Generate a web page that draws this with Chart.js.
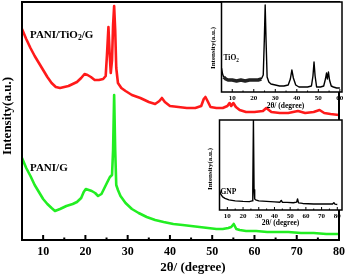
<!DOCTYPE html>
<html><head><meta charset="utf-8">
<script src="https://cdn.jsdelivr.net/npm/chart.js@4.4.0/dist/chart.umd.min.js"></script>
<style>
html,body{margin:0;padding:0;background:#fff;}
#wrap{position:relative;width:350px;height:276px;overflow:hidden;background:#fff;}
canvas{position:absolute;}
</style></head><body>
<div id="wrap">
<canvas id="main" width="350" height="276" style="left:0;top:0"></canvas>
<canvas id="tio2" width="150" height="112" style="left:200px;top:0"></canvas>
<canvas id="gnp" width="150" height="112" style="left:200px;top:116px"></canvas>
</div>
<script>
const FONT = '"Liberation Serif", "Times New Roman", serif';

// ---- main chart: PANI/TiO2/G (red) ----
const twoThetaTiO2G = [5,5.5,6,7,8,9,10,11,12,13,14,15,16,17,18,19,19.8,20.5,21.3,22.2,23.2,24.2,24.8,25.1,25.45,25.75,26.0,26.3,26.55,26.8,27.05,27.3,27.7,28.5,29.5,31,33,35,36.5,37.5,38.1,38.8,40,42,44,46,47.4,48.0,48.4,48.9,49.6,51,52.5,53.6,54.1,54.5,55.0,55.6,56.5,58,60,62,62.8,64,66,68,70.3,72,74,75.4,76.5,78,80];
const intensityTiO2G = [211,206,201,192,184,177,170,163,157,153,152,153,154,156,158,162,166,165,163,160,160,161,164,185,213,185,167,180,215,234,210,172,157,152,149,145,142,138,136,139,142,138,134,133,132,132,134,141,143,139,133,132,132,134,137,134,137,133,130,128,128,129,132,128,127,127,129,127,128,130,127,126,125];

// ---- main chart: PANI/G (green) ----
const twoThetaG = [5,5.5,6,7,8,9,10,11,12,12.8,14,15.5,17,18,19,19.6,20.1,20.8,21.5,22.3,23,23.8,24.5,25.2,25.8,26.3,26.55,26.8,27.05,27.3,27.7,28.3,29.5,31,32.6,34.5,36.5,38.5,40.8,43,45,47,49,51,52.5,53.8,54.5,55.1,55.7,56.5,58,60.4,63,65,68,71,74,77,80];
const intensityG = [82,77,72,64,55,48,41,36,32,29,31,34,36,38,42,48,51,50,49,47,44,46,52,58,63,65,90,145,90,55,50,44,37,31,27,23,20,18,16,15,14,13,12,11,11,12,13,16,11,10,9,9,8,8,8,7,7,6,6];

// ---- inset: TiO2 ----
const twoThetaTiO2 = [5,5.5,6,7,8,10,12,14,16,18,20,22,23.5,24.4,24.9,25.3,25.7,26.2,27,28,30,32,34,36,37,37.7,38.4,39.5,41,43,45,46.8,47.5,48.0,48.5,49.2,51,52.5,53.3,53.8,54.2,54.7,55.2,56,57,58.5,60];
const intensityTiO2 = [24,18,15,13,12,12,11,12,11,12,12,12,13,17,52,87,52,15,10,8,7,6,6,7,13,22,14,7,5,5,5,6,16,30,16,5,5,6,13,19,13,20,12,6,5,4,4];

// ---- inset: GNP ----
const twoThetaGNP = [5,5.7,7,8.5,11,15,20,24,25.8,26.2,26.6,27.0,27.4,28,30,35,40,43.5,44.3,45,48,52,54.1,54.7,55.3,58,65,72,77,77.8,78.5,80];
const intensityGNP = [20,16,13,11.5,10,9,8.5,8.3,9,20,89,20,11,10,9,8.5,8,7.7,9.5,7.7,7.5,7.2,7.8,11,7,6.5,6,6,6,7.3,5.8,5.5];

// ---- ticks ----
const mainTickLabels = [10,20,30,40,50,60,70,80];
const mainMinorTicks = [15,25,35,45,55,65,75];
const tio2TickLabels = [10,20,30,40,50,60];
const tio2MinorTicks = [15,25,35,45,55];
const gnpTickLabels = [10,20,30,40,50,60,70,80];
const gnpMinorTicks = [15,25,35,45,55,65,75];

const xTitle = '2θ/ (degree)';
const yTitle = 'Intensity(a.u.)';

function pts(xs, ys){ return xs.map((x,i)=>({x:x, y:ys[i]})); }

function drawParts(ctx, x, y, parts, size){
  let cx = x;
  for (const p of parts){
    const s = p.sub ? size*0.7 : size;
    ctx.font = 'bold ' + s + 'px ' + FONT;
    ctx.textAlign = 'left';
    ctx.textBaseline = 'middle';
    ctx.fillText(p.t, cx, y + (p.sub ? size*0.3 : 0));
    cx += ctx.measureText(p.t).width;
  }
}

function build(id, c){
  const cv = document.getElementById(id);
  const W = cv.width, H = cv.height;
  const decor = {
    id: 'decor_' + id,
    beforeDraw(chart){
      if (!c.fillArea) return;
      const a = chart.chartArea, ctx = chart.ctx;
      ctx.save(); ctx.fillStyle = '#fff';
      ctx.fillRect(a.left, a.top, a.right - a.left, a.bottom - a.top);
      ctx.restore();
    },
    afterDraw(chart){
      const a = chart.chartArea, ctx = chart.ctx, xs = chart.scales.x;
      ctx.save();
      ctx.strokeStyle = '#000'; ctx.fillStyle = '#000';
      ctx.lineWidth = c.frameWidth;
      ctx.strokeRect(a.left, a.top, a.right - a.left, a.bottom - a.top);
      ctx.lineWidth = c.tickWidth;
      const tickSets = [[c.tickLabels, c.majorLen],[c.minorTicks, c.minorLen]];
      for (const [vals, len] of tickSets){
        for (const v of vals){
          const px = xs.getPixelForValue(v);
          ctx.beginPath(); ctx.moveTo(px, a.bottom); ctx.lineTo(px, a.bottom - len); ctx.stroke();
        }
      }
      for (const t of c.texts){
        const x = t.x - c.off.x, y = t.y - c.off.y;
        if (t.rot){
          ctx.save(); ctx.translate(x, y); ctx.rotate(-Math.PI/2);
          ctx.font = 'bold ' + t.size + 'px ' + FONT;
          ctx.textAlign = 'center'; ctx.textBaseline = 'middle';
          ctx.fillText(t.parts[0].t, 0, 0);
          ctx.restore();
        } else if (t.center){
          ctx.font = 'bold ' + t.size + 'px ' + FONT;
          ctx.textAlign = 'center'; ctx.textBaseline = 'middle';
          ctx.fillText(t.parts[0].t, x, y);
        } else {
          drawParts(ctx, x, y, t.parts, t.size);
        }
      }
      ctx.restore();
    }
  };
  return new Chart(cv, {
    type: 'line',
    data: { datasets: c.datasets.map(d => ({
      data: pts(d.xs, d.ys), borderColor: d.color, borderWidth: d.width,
      pointRadius: 0, pointHoverRadius: 0, fill: false, tension: 0,
      borderJoinStyle: 'round', segment: d.segment || {}
    })) },
    options: {
      responsive: false, animation: false, devicePixelRatio: 1, events: [],
      layout: { padding: { left: c.area.left, top: c.area.top, right: W - c.area.right, bottom: 0 } },
      plugins: { legend: {display:false}, tooltip: {enabled:false} },
      scales: {
        x: { type: 'linear', min: c.xMin, max: c.xMax, position: 'bottom',
             grid: {display:false, drawTicks:false}, border: {display:false},
             afterBuildTicks: s => { s.ticks = c.tickLabels.map(v => ({value: v})); },
             afterFit: s => { s.height = H - c.area.bottom; },
             ticks: { color: '#000', font: {family: FONT, size: c.tickSize, weight: 'bold'},
                      padding: c.tickPad, maxRotation: 0, autoSkip: false, callback: v => String(v) } },
        y: { type: 'linear', display: false, min: 0, max: c.yMax }
      }
    },
    plugins: [decor]
  });
}

// main chart
build('main', {
  off: {x:0, y:0},
  area: {left:22, top:2, right:342, bottom:240},
  xMin: 5, xMax: 80, yMax: 238,
  tickLabels: mainTickLabels, minorTicks: mainMinorTicks,
  tickSize: 12, tickPad: 5, frameWidth: 2, tickWidth: 2, majorLen: 5, minorLen: 2.5,
  datasets: [
    {xs: twoThetaTiO2G, ys: intensityTiO2G, color: '#ff1a1a', width: 2.6},
    {xs: twoThetaG, ys: intensityG, color: '#22ee22', width: 2.6}
  ],
  texts: [
    {x: 30, y: 35, size: 11, parts: [{t:'PANI/TiO'},{t:'2', sub:true},{t:'/G'}]},
    {x: 30, y: 168, size: 11, parts: [{t:'PANI/G'}]},
    {x: 193, y: 268, size: 13, center: true, parts: [{t: xTitle}]},
    {x: 8, y: 116, size: 13, rot: true, parts: [{t: yTitle}]}
  ]
});

// TiO2 inset
build('tio2', {
  off: {x:200, y:0}, fillArea: true,
  area: {left:21.5, top:2, right:142, bottom:92},
  xMin: 5, xMax: 61, yMax: 90,
  tickLabels: tio2TickLabels, minorTicks: tio2MinorTicks,
  tickSize: 7, tickPad: 2, frameWidth: 1.5, tickWidth: 1, majorLen: 3, minorLen: 1.5,
  datasets: [
    {xs: twoThetaTiO2, ys: intensityTiO2, color: '#000', width: 1.4,
     segment: {borderWidth: ctx => (ctx.p0.parsed.x >= 6 && ctx.p1.parsed.x <= 23.5) ? 3.5 : 1.4,
               borderColor: ctx => (ctx.p0.parsed.x >= 6 && ctx.p1.parsed.x <= 23.5) ? '#222' : '#000'}}
  ],
  texts: [
    {x: 223.5, y: 58, size: 7.5, parts: [{t:'TiO'},{t:'2', sub:true}]},
    {x: 285.5, y: 106, size: 7.5, center: true, parts: [{t: xTitle}]},
    {x: 213.5, y: 48, size: 7, rot: true, parts: [{t: yTitle}]}
  ]
});

// GNP inset
build('gnp', {
  off: {x:200, y:116}, fillArea: true,
  area: {left:19.5, top:4, right:142, bottom:94},
  xMin: 5, xMax: 83, yMax: 89,
  tickLabels: gnpTickLabels, minorTicks: gnpMinorTicks,
  tickSize: 7, tickPad: 2, frameWidth: 1.5, tickWidth: 1, majorLen: 3, minorLen: 1.5,
  datasets: [
    {xs: twoThetaGNP, ys: intensityGNP, color: '#000', width: 1.4}
  ],
  texts: [
    {x: 220.5, y: 192, size: 7.5, parts: [{t:'GNP'}]},
    {x: 280.5, y: 223.5, size: 7.5, center: true, parts: [{t: xTitle}]},
    {x: 210, y: 169, size: 7, rot: true, parts: [{t: yTitle}]}
  ]
});
</script>
</body></html>
